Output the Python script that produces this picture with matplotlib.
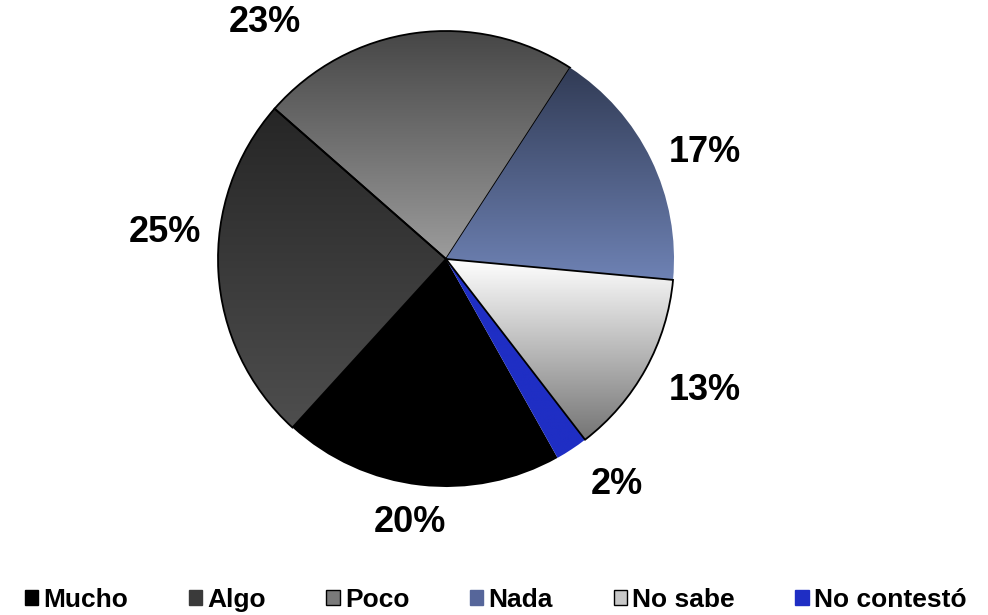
import numpy as np
import matplotlib
matplotlib.use("Agg")
import matplotlib.pyplot as plt
from matplotlib.patches import Rectangle

# Datos de la encuesta
categorias = ['Mucho', 'Algo', 'Poco', 'Nada', 'No sabe', 'No contestó']
valores = [19.9, 24.7, 22.7, 17.3, 13.1, 2.3]

# Degradados (arriba, abajo) de cada porción
degradado_sup = ['#000000', '#262626', '#444444', '#313b55', '#ffffff', '#1f2ec4']
degradado_inf = ['#000000', '#4e4e4e', '#9c9c9c', '#6e82b4', '#747474', '#1f2ec4']
color_leyenda = ['#000000', '#3a3a3a', '#7a7a7a', '#56669a', '#c8c8c8', '#1f2ec4']
con_borde = [False, True, True, False, True, False]

# Posición de las etiquetas (en radios)
pos_etiquetas = [(-0.158, -1.154), (-1.232, 0.118), (-0.794, 1.039),
                 (1.136, 0.469), (1.136, -0.575), (0.750, -0.987)]

plt.rcParams['font.family'] = ['Liberation Sans', 'DejaVu Sans']

fig = plt.figure(figsize=(9.88, 6.15), dpi=100)
ax = fig.add_axes([0, 0, 1, 1])

wedges, _ = ax.pie(valores, colors=degradado_sup, startangle=-60.7,
                   counterclock=False, radius=1, center=(0, 0))

ax.axis('off')

for i, (w, c1, c2, borde) in enumerate(zip(wedges, degradado_sup, degradado_inf, con_borde)):
    v = w.get_path().vertices
    x0, x1 = v[:, 0].min(), v[:, 0].max()
    y0, y1 = v[:, 1].min(), v[:, 1].max()
    a = np.array(matplotlib.colors.to_rgb(c1))
    b = np.array(matplotlib.colors.to_rgb(c2))
    t = np.linspace(0, 1, 256)[:, None]
    img = (a[None, :] * (1 - t) + b[None, :] * t)[:, None, :]
    # Nada por encima del borde de Poco
    zimg = 2.7 if categorias[i] == 'Nada' else 2
    im = ax.imshow(img, extent=(x0, x1, y0, y1), origin='upper',
                   aspect='auto', zorder=zimg, interpolation='bilinear')
    im.set_clip_path(w)
    w.set_facecolor('none')
    w.set_zorder(2.5 if categorias[i] == 'Poco' else 3)
    if borde:
        w.set_edgecolor('black')
        w.set_linewidth(1.3)
    else:
        w.set_edgecolor('none')

# Escala: 228 px por unidad, centro en (446, 259)
ax.set_xlim(-446 / 228, (988 - 446) / 228)
ax.set_ylim(-(615 - 259) / 228, 259 / 228)

for v, (x, y) in zip(valores, pos_etiquetas):
    ax.text(x, y, '%.0f%%' % v, ha='center', va='center',
            fontsize=26, fontweight='bold', color='black')

handles = [Rectangle((0, 0), 1, 1, facecolor=c,
                     edgecolor='black' if b and c != '#3a3a3a' else c, linewidth=1)
           for c, b in zip(color_leyenda, con_borde)]
fig.legend(handles, categorias, loc='center', bbox_to_anchor=(0.5015, 0.024),
           ncol=6, frameon=False, handlelength=0.5, handleheight=0.5,
           handletextpad=0.2, columnspacing=2.3, borderpad=0,
           prop={'weight': 'bold', 'size': 19})

fig.savefig('out.png', dpi=100)
